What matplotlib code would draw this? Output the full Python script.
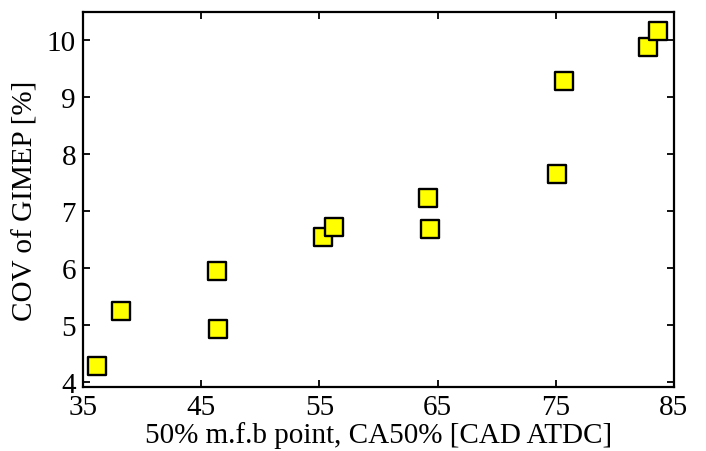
import matplotlib
matplotlib.use("Agg")
import matplotlib.pyplot as plt
from matplotlib.markers import MarkerStyle

ca50 = [36.16, 38.2, 46.34, 46.45, 55.28, 56.26, 64.36, 64.21, 75.07, 75.69, 82.77, 83.67]
cov_gimep = [4.28, 5.25, 5.96, 4.93, 6.56, 6.72, 6.69, 7.24, 7.65, 9.29, 9.89, 10.16]
xticks = [35, 45, 55, 65, 75, 85]
yticks = [4, 5, 6, 7, 8, 9, 10]

plt.rcParams['font.family'] = ['Liberation Serif', 'DejaVu Serif']
fig = plt.figure(figsize=(7.06, 4.52), dpi=100)
ax = fig.add_axes([83/706, 1 - 388/452, (674 - 83)/706, (388 - 13)/452])

m = MarkerStyle('s', joinstyle='round')
ax.plot(ca50, cov_gimep, linestyle='none', marker=m, markersize=13,
        markerfacecolor='#ffff00', markeredgecolor='black', markeredgewidth=1.7)

ax.set_xlim(35, 85)
ax.set_ylim(3.92, 10.5)
ax.set_xticks(xticks)
ax.set_yticks(yticks)
ax.tick_params(direction='in', top=True, right=True, length=5, width=1.3,
               labelsize=21, pad=5)
for s in ax.spines.values():
    s.set_linewidth(1.6)
ax.set_xlabel('50% m.f.b point, CA50% [CAD ATDC]', fontsize=21, labelpad=1)
ax.set_ylabel('COV of GIMEP [%]', fontsize=21, labelpad=6)

fig.savefig('out.png', dpi=100)
